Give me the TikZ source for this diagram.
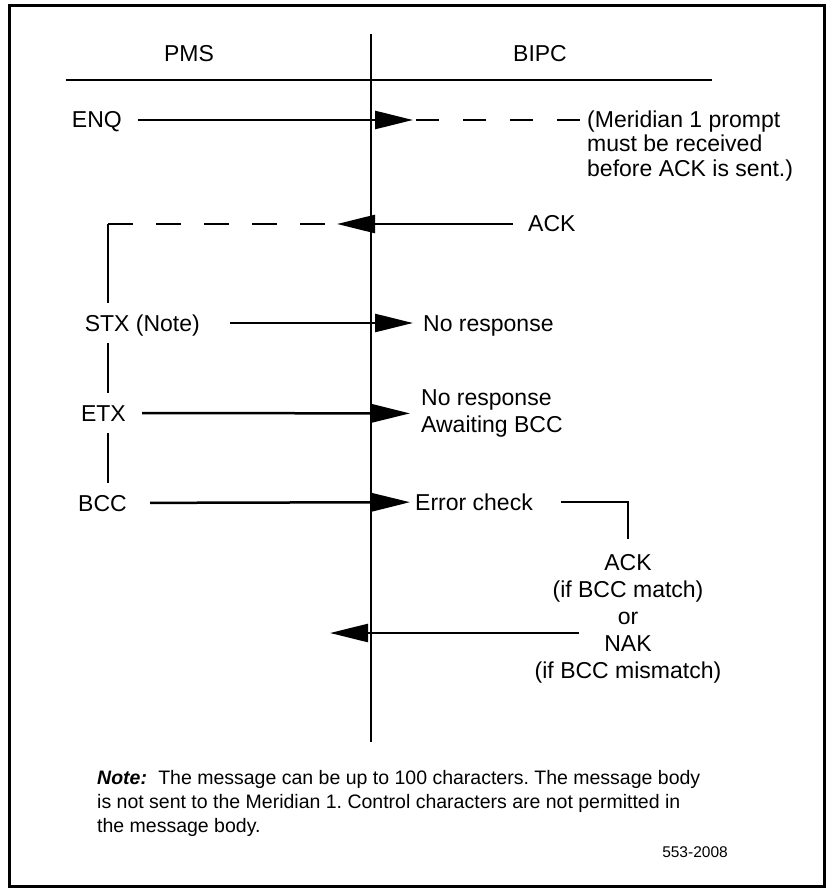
\documentclass[tikz,border=0pt]{standalone}
\usepackage{fontspec}
\setmainfont{Liberation Sans}
\usetikzlibrary{arrows.meta}
\frenchspacing

\begin{document}
\begin{tikzpicture}[x=1pt, y=-1pt,
    every node/.style={inner sep=0pt, font=\fontsize{23}{27}\selectfont},
    lbl/.style={text height=16pt, text depth=0pt},
    side/.style={lbl, inner ysep=11.5pt},
    msg/.style={line width=2.5pt, -{Triangle[length=38pt,width=18pt]}},
    wait/.style={line width=2.2pt, dash pattern=on 23pt off 24pt},
    link/.style={line width=2pt}]
    \useasboundingbox (0,0) rectangle (832,890);
    \draw[line width=3pt] (9.5,5.5) rectangle (824.5,886.5);

    % columns
    \node (pms)  at (189,54) {PMS};
    \node (bipc) at (540,54) {BIPC};
    \coordinate (ltop) at (371,34);
    \coordinate (lbot) at (371,742);
    \coordinate (hl) at (66,80);
    \coordinate (hr) at (712,80);
    \draw[link] (hl) -- (hr);
    \draw[line width=2.4pt] (ltop) -- (lbot);

    % PMS side
    \node[side, anchor=east] (enq) at (122,120) {ENQ};
    \node[side, anchor=east] (stx) at (200,323) {STX (Note)};
    \node[side, anchor=east] (etx) at (126,413) {ETX};
    \node[side, anchor=east] (bcc) at (127,503) {BCC};

    % BIPC side
    \node[anchor=north west, align=left, font=\fontsize{23}{24.5}\selectfont] (prompt)
        at (587,110.5) {(Meridian 1 prompt\\must be received\\before ACK is sent.)};
    \node[lbl, anchor=west] (ack) at (528,224) {ACK};
    \node[lbl, anchor=west] (noresp) at (423,323) {No response};
    \node[anchor=west, align=left] (await) at (421,413.5) {No response\\Awaiting BCC};
    \node[lbl, anchor=west] (errchk) at (415,502) {Error check};
    \node[align=center] (reply) at (628,618.5)
        {ACK\\(if BCC match)\\or\\NAK\\(if BCC mismatch)};

    \coordinate (enqtip) at (413,120);
    \coordinate (enqend) at (580,120);
    \coordinate (acktip) at (337,224);
    \coordinate (corner) at (108,224);
    \coordinate (nakfrom) at (579,633);
    \coordinate (naktip) at (330,633);

    % messages
    \draw[msg, shorten <=16pt] (enq) -- (enqtip);
    \draw[wait, shorten <=3pt] (enqtip) -- (enqend);
    \draw[msg, shorten <=15pt] (ack) -- (acktip);
    \draw[wait, dash pattern=on 25pt off 23pt] (corner) -- (acktip);
    \draw[link] (corner) -- (corner |- stx.north);
    \draw[link] (corner |- stx.south) -- (corner |- etx.north);
    \draw[link] (corner |- etx.south) -- (corner |- bcc.north);
    \draw[msg, shorten <=30pt, shorten >=10pt] (stx) -- (noresp);
    \draw[msg, shorten <=16pt, shorten >=11pt] (etx) -- (await);
    \draw[msg, shorten <=23pt, shorten >=5pt] (bcc) -- (errchk);
    \draw[link, shorten <=28pt, shorten >=15pt] (errchk) -| (reply.north);
    \draw[msg] (nakfrom) -- (naktip);

    \node[anchor=north west, align=left, font=\fontsize{19.5}{24}\selectfont] (note)
        at (97,770) {\textbf{\textit{Note:}}\hspace{0.3em} The message can be up to 100 characters. The message body\\
        is not sent to the Meridian 1. Control characters are not permitted in\\
        the message body.};
    \node[lbl, font=\fontsize{15.5}{18}\selectfont, text height=11pt] (fig) at (695,852) {553-2008};
\end{tikzpicture}
\end{document}
